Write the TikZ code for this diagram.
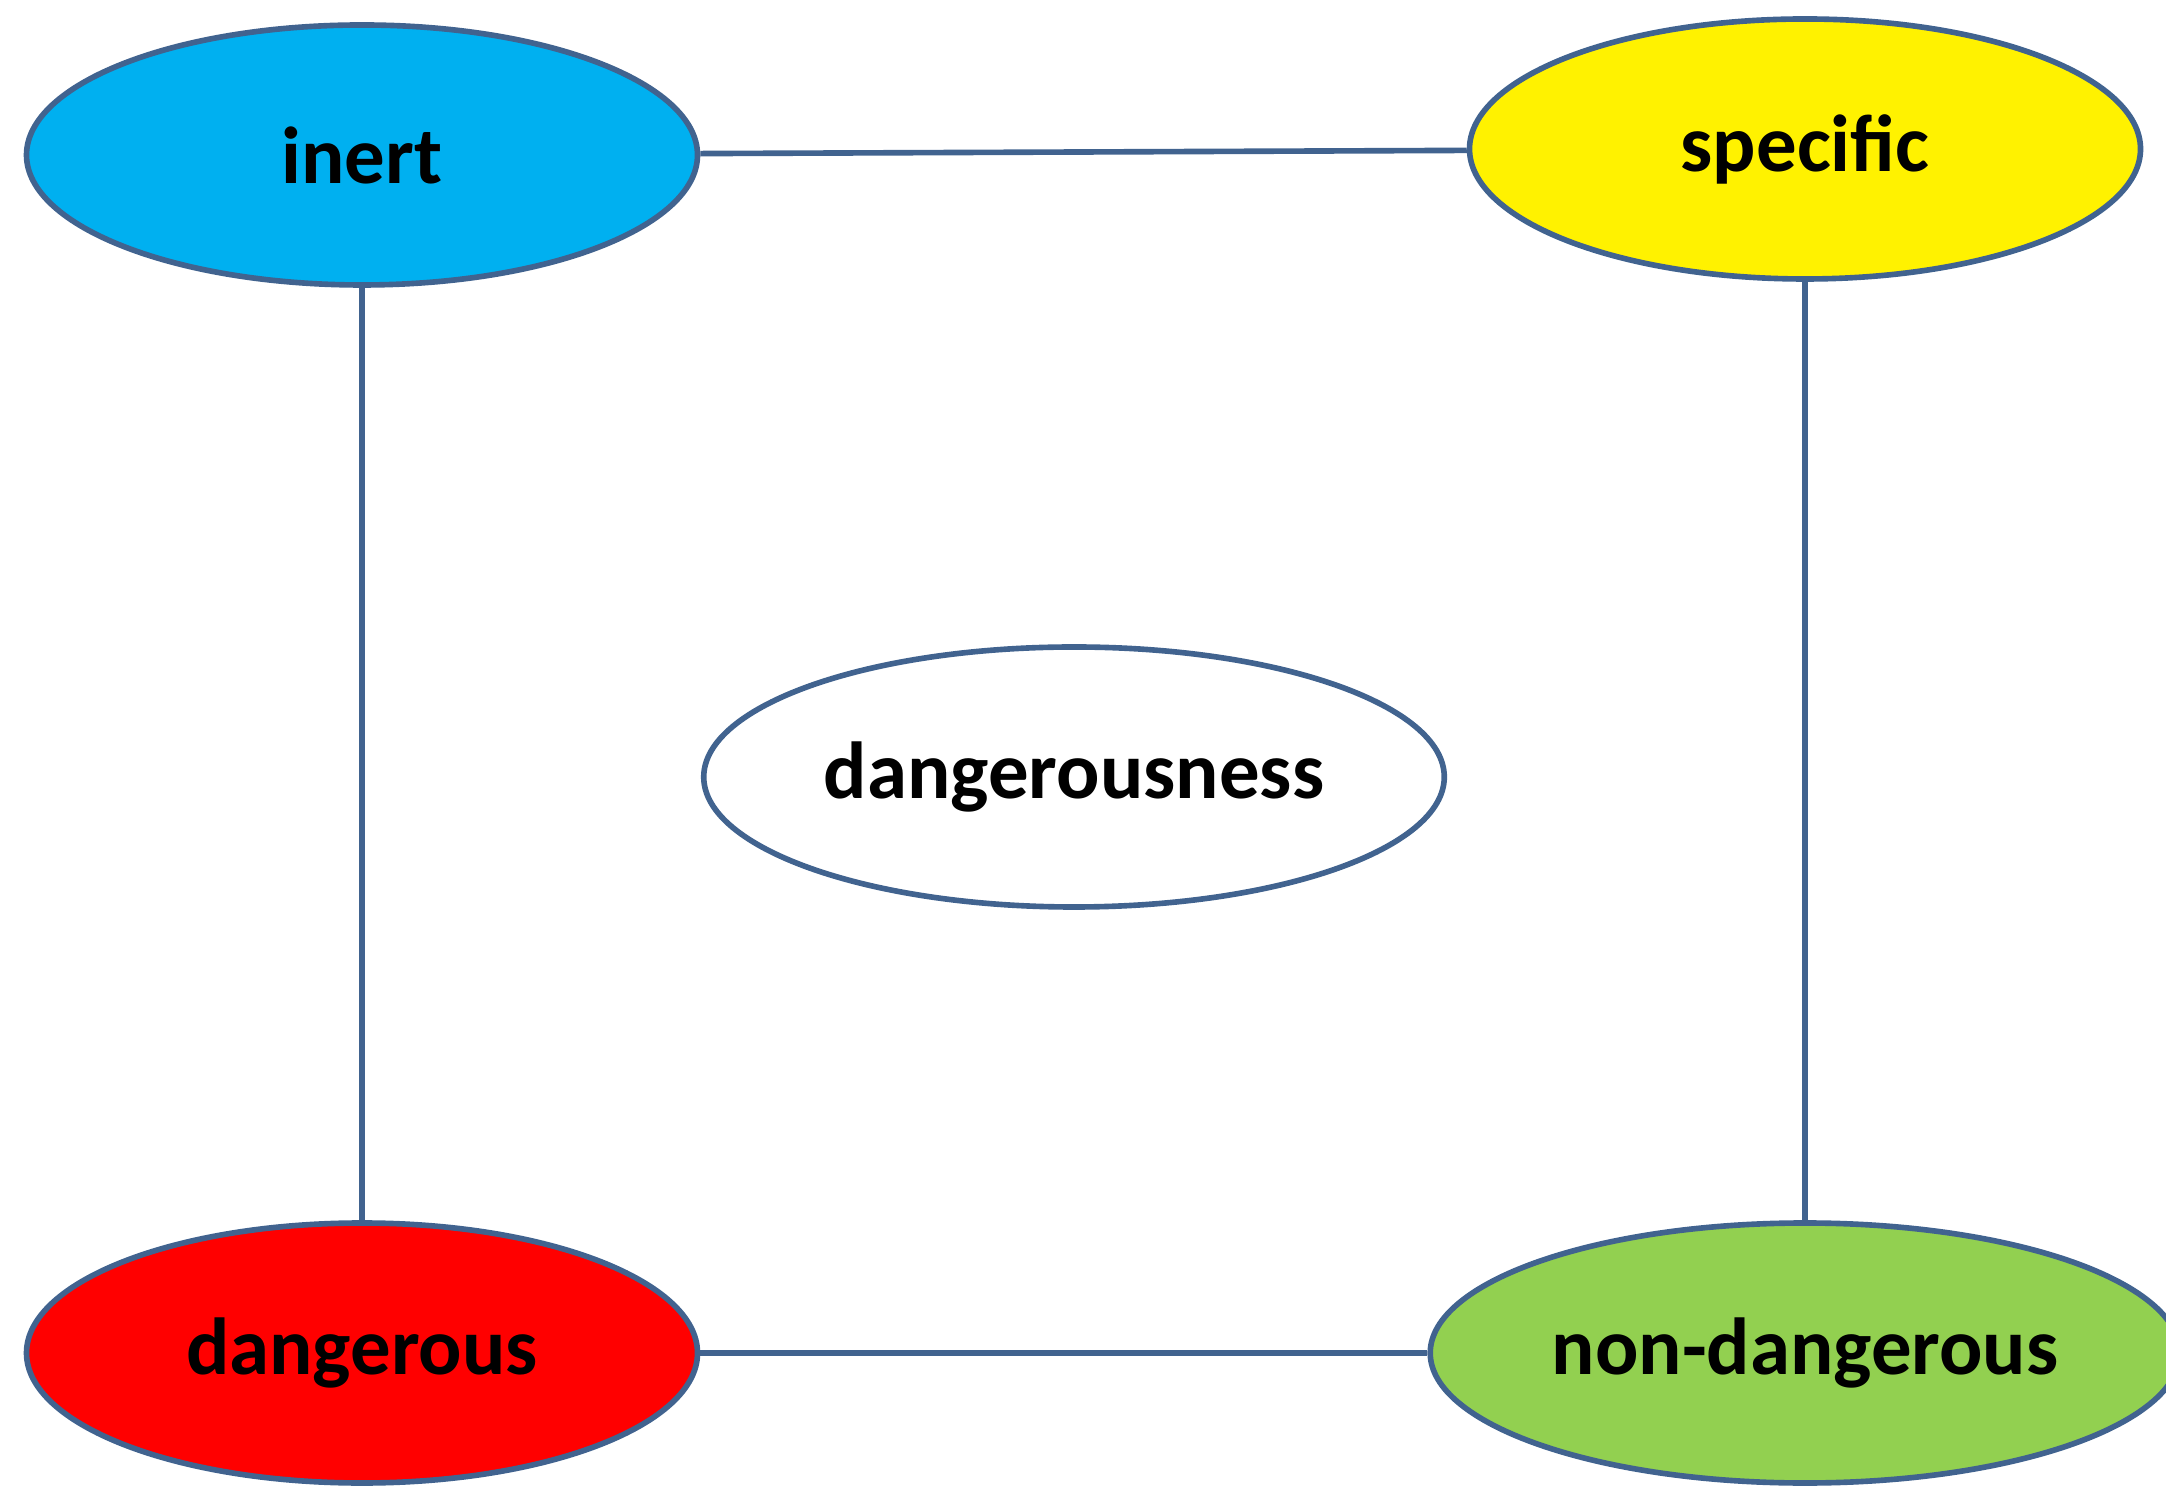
\documentclass[tikz,border=0pt]{standalone}
\usepackage{fontspec}
\setmainfont{Carlito}
\usetikzlibrary{shapes.geometric}
\definecolor{edgeblue}{HTML}{41638F}
\begin{document}
\begin{tikzpicture}[
    concept/.style = {ellipse, draw=edgeblue, line width=1.6pt, minimum width=6.71cm, minimum height=2.6cm, font=\fontsize{23}{28}\selectfont\bfseries},
    link/.style = {draw=edgeblue, line width=1.6pt}
]
    \useasboundingbox (0,0) rectangle (21.66,15.07);
    % Four corner concepts
    \node[concept, fill={rgb,255:red,0;green,176;blue,240}] (inert) at (3.62,13.52) {inert};
    \node[concept, fill=yellow] (specific) at (18.05,13.58) {specific};
    \node[concept, fill=red] (dangerous) at (3.62,1.54) {dangerous};
    \node[concept, fill={rgb,255:red,146;green,208;blue,80}] (nondangerous) at (18.05,1.54) {non-dangerous};
    % Central concept
    \node[concept, fill=white] (dangerousness) at (10.74,7.30) {dangerousness};
    % Connecting lines
    \draw[link] (inert) -- (specific);
    \draw[link] (inert) -- (dangerous);
    \draw[link] (specific) -- (nondangerous);
    \draw[link] (dangerous) -- (nondangerous);
\end{tikzpicture}
\end{document}
